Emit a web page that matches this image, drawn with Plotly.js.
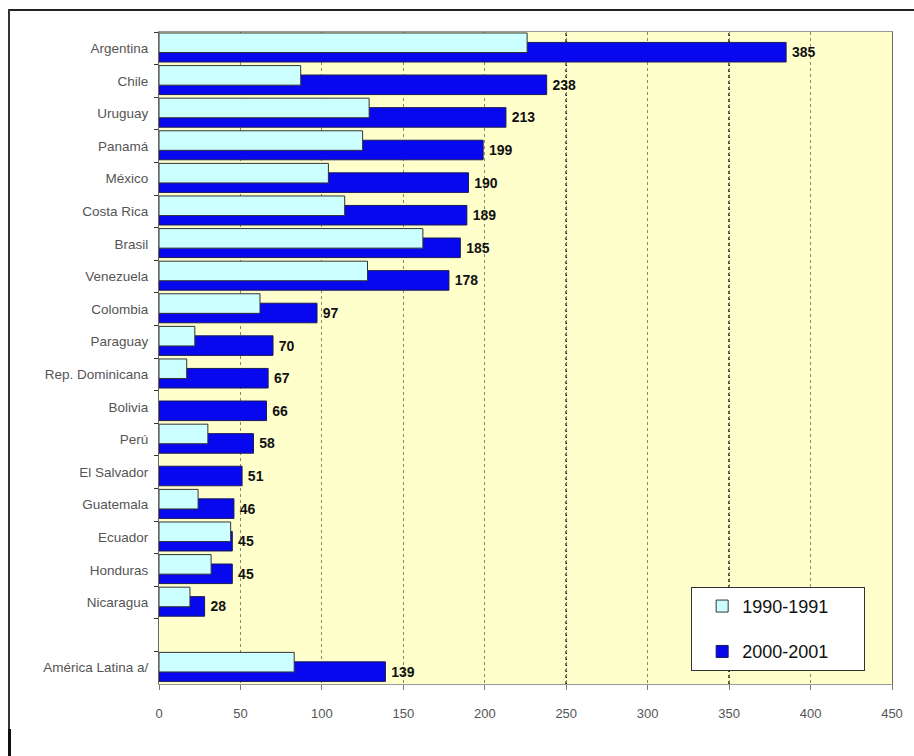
<!DOCTYPE html>
<html>
<head>
<meta charset="utf-8">
<script src="https://cdn.plot.ly/plotly-3.0.1.min.js"></script>
<style>
  html, body { margin: 0; padding: 0; background: #ffffff; }
  #wrap { position: relative; width: 914px; height: 756px; }
  #chart { width: 914px; height: 756px; }
  #frameTop { position: absolute; left: 9px; top: 9px; width: 905px; height: 0; border-top: 2px solid #222; }
  #frameLeft { position: absolute; left: 8px; top: 9px; width: 0; height: 747px; border-left: 2px solid #333; }
  #frameLeftThick { position: absolute; left: 8px; top: 729px; width: 0; height: 27px; border-left: 3px solid #111; }
</style>
</head>
<body>
<div id="wrap">
  <div id="chart"></div>
  <div id="frameTop"></div>
  <div id="frameLeft"></div>
  <div id="frameLeftThick"></div>
</div>
<script>
// Categories (top to bottom); ' ' is the empty gap row before the regional total
var categories = ['Argentina', 'Chile', 'Uruguay', 'Panamá', 'México', 'Costa Rica', 'Brasil',
  'Venezuela', 'Colombia', 'Paraguay', 'Rep. Dominicana', 'Bolivia', 'Perú', 'El Salvador',
  'Guatemala', 'Ecuador', 'Honduras', 'Nicaragua', ' ', 'América Latina a/'];

var values1990 = [226, 87, 129, 125, 104, 114, 162, 128, 62, 22, 17, null, 30, null, 24, 44, 32, 19, null, 83];
var values2000 = [385, 238, 213, 199, 190, 189, 185, 178, 97, 70, 67, 66, 58, 51, 46, 45, 45, 28, null, 139];

var seriesNames = ['1990-1991', '2000-2001'];
var xTicks = [0, 50, 100, 150, 200, 250, 300, 350, 400, 450];

var labels2000 = values2000.map(function (v) { return v === null ? '' : '\u2009' + String(v); });
var legendPad = '\u00a0\u00a0\u00a0\u00a0\u00a0\u00a0';

var traceNew = {
  type: 'bar',
  orientation: 'h',
  name: seriesNames[1] + legendPad,
  y: categories,
  x: values2000,
  offset: -0.18,
  width: 0.6,
  marker: { color: '#0808ee', line: { color: '#1a1a55', width: 1 } },
  text: labels2000,
  textposition: 'outside',
  constraintext: 'none',
  cliponaxis: false,
  textfont: { family: 'Liberation Sans, Arial, sans-serif', size: 14, color: '#111', weight: 'bold' },
  legendgroup: 'b',
  legendrank: 2,
  hoverinfo: 'x+y+name'
};

var traceOld = {
  type: 'bar',
  orientation: 'h',
  name: seriesNames[0] + legendPad,
  y: categories,
  x: values1990,
  offset: -0.47,
  width: 0.6,
  marker: { color: '#ccffff', line: { color: '#333333', width: 1 } },
  legendgroup: 'a',
  legendrank: 1,
  hoverinfo: 'x+y+name'
};

var layout = {
  width: 914,
  height: 756,
  margin: { l: 159, r: 22, t: 32, b: 72, pad: 0 },
  paper_bgcolor: '#ffffff',
  plot_bgcolor: '#ffffcc',
  barmode: 'overlay',
  showlegend: true,
  font: { family: 'Liberation Sans, Arial, sans-serif', color: '#444' },
  xaxis: {
    range: [0, 450],
    tickvals: xTicks,
    ticktext: xTicks.map(String),
    ticks: 'outside',
    ticklen: 5,
    tickcolor: '#777',
    tickfont: { size: 13, color: '#555' },
    ticklabelstandoff: 12,
    showgrid: true,
    gridcolor: '#8a8a6a',
    griddash: '3px,3px',
    gridwidth: 1,
    showline: true,
    linecolor: '#999',
    linewidth: 1,
    mirror: true,
    zeroline: false,
    fixedrange: true
  },
  yaxis: {
    type: 'category',
    categoryorder: 'array',
    categoryarray: categories,
    range: [categories.length - 0.5, -0.5],
    ticks: 'outside',
    tickson: 'boundaries',
    ticklen: 4,
    tickcolor: '#333',
    tickfont: { size: 13.5, color: '#555' },
    ticklabelstandoff: 7,
    showgrid: false,
    showline: true,
    linecolor: '#666',
    linewidth: 1,
    mirror: true,
    zeroline: false,
    fixedrange: true
  },
  shapes: [
    { type: 'line', xref: 'x', yref: 'paper', x0: 250, x1: 250, y0: 0, y1: 1, layer: 'below',
      line: { color: '#111', width: 1.6, dash: '3px,3px' } },
    { type: 'line', xref: 'x', yref: 'paper', x0: 350, x1: 350, y0: 0, y1: 1, layer: 'below',
      line: { color: '#111', width: 1.6, dash: '3px,3px' } }
  ],
  legend: {
    x: 0.726,
    y: 0.149,
    xanchor: 'left',
    yanchor: 'top',
    bgcolor: '#ffffff',
    bordercolor: '#333',
    borderwidth: 1,
    font: { family: 'Liberation Sans, Arial, sans-serif', size: 18, color: '#111' },
    traceorder: 'grouped',
    tracegroupgap: 19,
    indentation: 10,
    itemwidth: 30
  }
};

Plotly.newPlot('chart', [traceNew, traceOld], layout, { displayModeBar: false, staticPlot: true });
</script>
</body>
</html>
